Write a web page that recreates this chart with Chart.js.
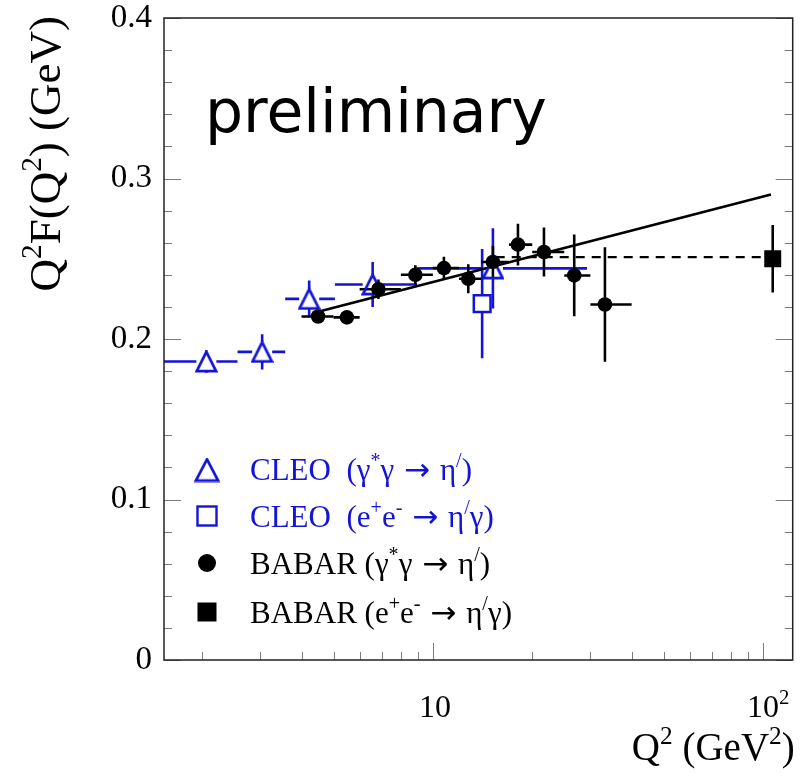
<!DOCTYPE html>
<html>
<head>
<meta charset="utf-8">
<script src="https://cdn.jsdelivr.net/npm/chart.js@4.4.1/dist/chart.umd.min.js"></script>
<style>
  html, body { margin: 0; padding: 0; background: #fff; }
  #wrap { width: 807px; height: 776px; }
</style>
</head>
<body>
<div id="wrap"><canvas id="chart" width="807" height="776"></canvas></div>
<script>
// ---- data ----
// CLEO gamma* gamma -> eta'
const cleoQ2   = [2.06, 3.04, 4.22, 6.57, 15.2];
const cleoQ2Lo = [1.5, 2.56, 3.57, 5.05, 8.96];
const cleoQ2Hi = [2.56, 3.57, 5.05, 8.96, 29.3];
const cleoF    = [0.186, 0.192, 0.225, 0.234, 0.244];
const cleoErr  = [0.007, 0.011, 0.0115, 0.014, 0.025];

// CLEO e+e- -> eta' gamma
const cleoEeQ2  = [14.1];
const cleoEeF   = [0.222];
const cleoEeErr = [0.034];

// BABAR gamma* gamma -> eta'
const babarQ2   = [4.49, 5.49, 6.84, 8.85, 10.8, 12.8, 15.2, 18.1, 21.7, 26.8, 33.2];
const babarQ2Lo = [4, 5, 6, 8, 10, 12, 14, 17, 20, 25, 30];
const babarQ2Hi = [5, 6, 8, 10, 12, 14, 17, 20, 25, 30, 40];
const babarF    = [0.214, 0.2135, 0.231, 0.240, 0.2442, 0.2375, 0.248, 0.2588, 0.2542, 0.2396, 0.2215];
const babarErr  = [0.004, 0.004, 0.006, 0.006, 0.007, 0.009, 0.010, 0.013, 0.0153, 0.0255, 0.0357];

// BABAR e+e- -> eta' gamma
const babarEeQ2  = [107];
const babarEeF   = [0.250];
const babarEeErr = [0.021];

// fit line and plateau (dashed)
const fitQ2 = [4.49, 105.7];
const fitF  = [0.217, 0.290];
const plateauQ2 = [15.5, 107];
const plateauF  = [0.251, 0.251];

// axes
const xMin = 1.533, xMax = 123;
const yMin = 0, yMax = 0.4;
const yTicks = [0, 0.1, 0.2, 0.3, 0.4];
const yTickLabels = ['0', '0.1', '0.2', '0.3', '0.4'];
const xTicks = [10, 100];
const xTickLabels = [[['10', false]], [['10', false], ['2', true]]];

const BLUE = '#1414d6';
const SERIF = '"Liberation Serif", "Times New Roman", serif';
const ARROW_FONT = '"DejaVu Sans", sans-serif';

// ---- helpers ----
function makeTriangle(w, h, color, lw) {
  const c = document.createElement('canvas');
  c.width = w; c.height = h;
  const g = c.getContext('2d');
  const m = lw / 2 + 0.5;
  g.strokeStyle = color;
  g.lineWidth = lw;
  g.beginPath();
  g.moveTo(w / 2, m);
  g.lineTo(w - m, h - m);
  g.lineTo(m, h - m);
  g.closePath();
  g.stroke();
  return c;
}
const triMarker = makeTriangle(23, 23, BLUE, 2.7);
const triLegend = makeTriangle(26, 25, BLUE, 2.7);

function pts(xs, ys) { return xs.map((v, i) => ({ x: v, y: ys[i] })); }

// parts: [text, superscript?, optional font family]
function drawRich(ctx, parts, x, y, size, color, align) {
  ctx.fillStyle = color;
  ctx.textBaseline = 'alphabetic';
  ctx.textAlign = 'left';
  const fontOf = p => (p[1] ? size * 0.65 : size) + 'px ' + (p[2] || SERIF);
  let total = 0;
  const widths = parts.map(p => {
    ctx.font = fontOf(p);
    const w = ctx.measureText(p[0]).width;
    total += w;
    return w;
  });
  let cx = align === 'right' ? x - total : align === 'center' ? x - total / 2 : x;
  parts.forEach((p, i) => {
    ctx.font = fontOf(p);
    ctx.fillText(p[0], cx, p[1] ? y - size * 0.42 : y);
    cx += widths[i];
  });
}

// error bars with a gap around open markers
function drawErrors(ctx, xs, ys, q, f, err, lo, hi, color, gap) {
  ctx.strokeStyle = color;
  ctx.lineWidth = 2.6;
  for (let i = 0; i < q.length; i++) {
    const px = xs.getPixelForValue(q[i]);
    const py = ys.getPixelForValue(f[i]);
    const top = ys.getPixelForValue(f[i] + err[i]);
    const bot = ys.getPixelForValue(f[i] - err[i]);
    ctx.beginPath();
    if (top < py - gap) { ctx.moveTo(px, top); ctx.lineTo(px, py - gap); }
    if (bot > py + gap) { ctx.moveTo(px, py + gap); ctx.lineTo(px, bot); }
    if (lo) {
      const l = xs.getPixelForValue(lo[i]);
      const r = xs.getPixelForValue(hi[i]);
      if (l < px - gap) { ctx.moveTo(l, py); ctx.lineTo(px - gap, py); }
      if (r > px + gap) { ctx.moveTo(px + gap, py); ctx.lineTo(r, py); }
    }
    ctx.stroke();
  }
}

const rootStyle = {
  id: 'rootStyle',
  beforeDatasetsDraw(chart) {
    const { ctx, chartArea: a, scales: { x, y } } = chart;
    ctx.save();
    ctx.beginPath();
    ctx.rect(a.left, a.top, a.right - a.left, a.bottom - a.top);
    ctx.clip();
    drawErrors(ctx, x, y, cleoQ2, cleoF, cleoErr, cleoQ2Lo, cleoQ2Hi, BLUE, 10);
    drawErrors(ctx, x, y, cleoEeQ2, cleoEeF, cleoEeErr, null, null, BLUE, 9);
    drawErrors(ctx, x, y, babarQ2, babarF, babarErr, babarQ2Lo, babarQ2Hi, '#000', 0);
    drawErrors(ctx, x, y, babarEeQ2, babarEeF, babarEeErr, null, null, '#000', 0);
    ctx.restore();
  },
  afterDraw(chart) {
    const { ctx, chartArea: a, scales: { x, y } } = chart;
    ctx.save();

    // ticks, inside the frame
    ctx.strokeStyle = '#7a7a7a';
    ctx.lineWidth = 1;
    ctx.beginPath();
    for (let v = 0; v <= yMax + 1e-9; v += 0.02) {
      const py = Math.round(y.getPixelForValue(v)) + 0.5;
      const major = Math.abs(v * 10 - Math.round(v * 10)) < 1e-6;
      const len = major ? 17 : 8;
      ctx.moveTo(a.left, py); ctx.lineTo(a.left + len, py);
      ctx.moveTo(a.right, py); ctx.lineTo(a.right - len, py);
    }
    for (let dec = 1; dec <= 100; dec *= 10) {
      for (let m = 1; m <= 9; m++) {
        const v = m * dec;
        if (v < xMin || v > xMax) continue;
        const px = Math.round(x.getPixelForValue(v)) + 0.5;
        const len = m === 1 ? 17 : 8;
        ctx.moveTo(px, a.bottom); ctx.lineTo(px, a.bottom - len);
      }
    }
    ctx.stroke();

    // frame
    ctx.strokeStyle = '#222';
    ctx.lineWidth = 1.5;
    ctx.strokeRect(a.left, a.top, a.right - a.left, a.bottom - a.top);

    // tick labels
    ctx.fillStyle = '#000';
    ctx.font = '33px ' + SERIF;
    ctx.textAlign = 'right';
    ctx.textBaseline = 'middle';
    yTicks.forEach((v, i) => ctx.fillText(yTickLabels[i], a.left - 12, y.getPixelForValue(v)));
    xTicks.forEach((v, i) => {
      const px = x.getPixelForValue(v);
      if (xTickLabels[i].length === 1) drawRich(ctx, xTickLabels[i], px + 2, a.bottom + 57, 32, '#000', 'center');
      else drawRich(ctx, xTickLabels[i], px - 16, a.bottom + 57, 32, '#000', 'left');
    });

    // axis titles
    drawRich(ctx, [['Q', false], ['2', true], [' (GeV', false], ['2', true], [')', false]],
      a.right + 2, a.bottom + 100, 39, '#000', 'right');
    ctx.save();
    ctx.translate(60, a.top - 2);
    ctx.rotate(-Math.PI / 2);
    drawRich(ctx, [['Q', false], ['2', true], ['F(Q', false], ['2', true], [') (GeV)', false]],
      0, 0, 45, '#000', 'right');
    ctx.restore();

    // preliminary
    ctx.fillStyle = '#000';
    ctx.font = '60px "DejaVu Sans", sans-serif';
    ctx.textAlign = 'left';
    ctx.textBaseline = 'alphabetic';
    ctx.fillText('preliminary', 205, 132);

    // legend
    const lx = 207, tx = 250;
    ctx.drawImage(triLegend, lx - 13, 470 - 12.5);
    ctx.strokeStyle = BLUE; ctx.lineWidth = 2.4;
    ctx.strokeRect(lx - 9.5, 516 - 9.5, 19, 19);
    ctx.fillStyle = '#000';
    ctx.beginPath(); ctx.arc(lx, 563, 9, 0, Math.PI * 2); ctx.fill();
    ctx.fillRect(lx - 9.5, 612 - 9.5, 19, 19);
    const ls = 31;
    const arrow = [' \u2192 ', false, ARROW_FONT];
    drawRich(ctx, [['CLEO  (\u03b3', false], ['*', true], ['\u03b3', false], arrow, ['\u03b7', false], ['/', true], [')', false]], tx, 480, ls, BLUE, 'left');
    drawRich(ctx, [['CLEO  (e', false], ['+', true], ['e', false], ['-', true], arrow, ['\u03b7', false], ['/', true], ['\u03b3)', false]], tx, 527, ls, BLUE, 'left');
    drawRich(ctx, [['BABAR (\u03b3', false], ['*', true], ['\u03b3', false], arrow, ['\u03b7', false], ['/', true], [')', false]], tx, 574, ls, '#000', 'left');
    drawRich(ctx, [['BABAR (e', false], ['+', true], ['e', false], ['-', true], arrow, ['\u03b7', false], ['/', true], ['\u03b3)', false]], tx, 623, ls, '#000', 'left');

    ctx.restore();
  }
};

new Chart(document.getElementById('chart'), {
  type: 'scatter',
  data: {
    datasets: [
      { label: 'BABAR ee', data: pts(babarEeQ2, babarEeF), pointStyle: 'rect', pointRadius: 12,
        backgroundColor: '#000', borderColor: '#000', borderWidth: 0 },
      { label: 'BABAR', data: pts(babarQ2, babarF), pointStyle: 'circle', pointRadius: 7.3,
        backgroundColor: '#000', borderColor: '#000', borderWidth: 0 },
      { label: 'CLEO ee', data: pts(cleoEeQ2, cleoEeF), pointStyle: 'rect', pointRadius: 11.8,
        backgroundColor: 'rgba(0,0,0,0)', borderColor: BLUE, borderWidth: 2.5 },
      { label: 'CLEO', data: pts(cleoQ2, cleoF), pointStyle: triMarker,
        backgroundColor: 'rgba(0,0,0,0)', borderColor: BLUE },
      { label: 'fit', data: pts(fitQ2, fitF), showLine: true, pointRadius: 0,
        borderColor: '#000', borderWidth: 2.6 },
      { label: 'plateau', data: pts(plateauQ2, plateauF), showLine: true, pointRadius: 0,
        borderColor: '#000', borderWidth: 2.4, borderDash: [9, 7] }
    ]
  },
  options: {
    responsive: false,
    animation: false,
    events: [],
    layout: { padding: { left: 164, right: 7, top: 18, bottom: 116 } },
    plugins: { legend: { display: false }, tooltip: { enabled: false } },
    scales: {
      x: { type: 'logarithmic', min: xMin, max: xMax, display: false },
      y: { type: 'linear', min: yMin, max: yMax, display: false }
    }
  },
  plugins: [rootStyle]
});
</script>
</body>
</html>
